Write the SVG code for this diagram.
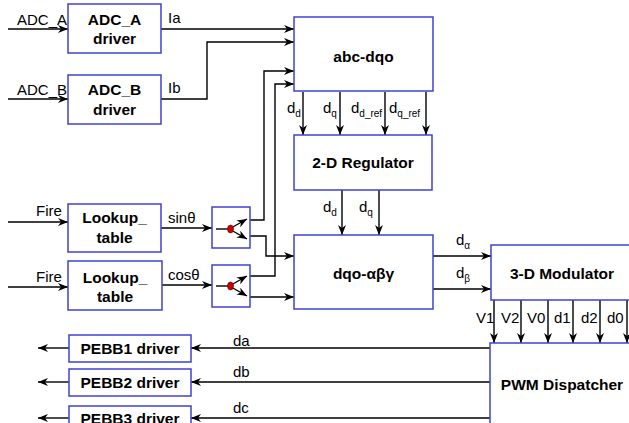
<svg xmlns="http://www.w3.org/2000/svg" width="629" height="423" viewBox="0 0 629 423">
<style>
.box{fill:#fff;stroke:#4040d2;stroke-width:1.5}
.bt{font-family:"Liberation Sans",Arial,sans-serif;font-weight:bold;font-size:15.5px;fill:#000;text-anchor:middle}
.lt{font-family:"Liberation Sans",Arial,sans-serif;font-size:15px;fill:#000}
.sub{font-size:10px}
.w{fill:none;stroke:#000;stroke-width:1.4}
.wa{fill:none;stroke:#000;stroke-width:1.4;marker-end:url(#ah)}
</style>
<defs>
<marker id="ah" markerWidth="11" markerHeight="8" refX="10" refY="4" orient="auto" markerUnits="userSpaceOnUse">
<path d="M0,0 L10,4 L0,8 L3,4 Z" fill="#000"/>
</marker>
</defs>
<rect x="0" y="0" width="629" height="423" fill="#fff"/>

<g id="connectors">
<path class="wa" d="M8,29 H68"/>
<path class="wa" d="M8,99 H68"/>
<path class="wa" d="M161,29 H294"/>
<path class="wa" d="M161,99 H207 V42 H294"/>
<path class="wa" d="M8,222 H68"/>
<path class="wa" d="M8,287 H68"/>
<path class="wa" d="M161,228 H212"/>
<path class="wa" d="M162,285 H212"/>
<path class="wa" d="M250,220 H264 V71 H294"/>
<path class="wa" d="M250,276 H275 V84 H294"/>
<path class="wa" d="M250,236 H266 V256 H294"/>
<path class="wa" d="M250,297 H294"/>
<path class="wa" d="M303,92 V135"/>
<path class="wa" d="M340,92 V135"/>
<path class="wa" d="M385,92 V135"/>
<path class="wa" d="M426,92 V135"/>
<path class="wa" d="M342,190 V235"/>
<path class="wa" d="M379,190 V235"/>
<path class="wa" d="M433,256 H491"/>
<path class="wa" d="M433,289 H491"/>
<path class="wa" d="M494,300 V343"/>
<path class="wa" d="M521,300 V343"/>
<path class="wa" d="M548,300 V343"/>
<path class="wa" d="M573,300 V343"/>
<path class="wa" d="M600,300 V343"/>
<path class="wa" d="M627,300 V343"/>
<path class="wa" d="M490,348 H191"/>
<path class="wa" d="M490,382 H191"/>
<path class="wa" d="M490,418 H191"/>
<path class="wa" d="M69,348 H38"/>
<path class="wa" d="M69,382 H38"/>
<path class="wa" d="M69,418 H38"/>
</g>

<g id="labels">
<text class="lt" x="42" y="25" text-anchor="middle">ADC_A</text>
<text class="lt" x="42" y="95" text-anchor="middle">ADC_B</text>
<text class="lt" x="168" y="23">Ia</text>
<text class="lt" x="168" y="93">Ib</text>
<text class="lt" x="49" y="216" text-anchor="middle">Fire</text>
<text class="lt" x="49" y="282" text-anchor="middle">Fire</text>
<text class="lt" x="168" y="223">sinθ</text>
<text class="lt" x="168" y="280">cosθ</text>
<text class="lt" x="287" y="113">d<tspan class="sub" dy="4">d</tspan></text>
<text class="lt" x="323" y="113">d<tspan class="sub" dy="4">q</tspan></text>
<text class="lt" x="351" y="113">d<tspan class="sub" dy="4">d_ref</tspan></text>
<text class="lt" x="389" y="113">d<tspan class="sub" dy="4">q_ref</tspan></text>
<text class="lt" x="323" y="212">d<tspan class="sub" dy="4">d</tspan></text>
<text class="lt" x="359" y="212">d<tspan class="sub" dy="4">q</tspan></text>
<text class="lt" x="456" y="245">d<tspan class="sub" dy="4">α</tspan></text>
<text class="lt" x="456" y="278">d<tspan class="sub" dy="4">β</tspan></text>
<text class="lt" x="476" y="323">V1</text>
<text class="lt" x="501" y="323">V2</text>
<text class="lt" x="527" y="323">V0</text>
<text class="lt" x="554" y="323">d1</text>
<text class="lt" x="581" y="323">d2</text>
<text class="lt" x="607" y="323">d0</text>
<text class="lt" x="233" y="346">da</text>
<text class="lt" x="233" y="377">db</text>
<text class="lt" x="233" y="413">dc</text>
</g>

<g id="adc_a">
<rect class="box" x="68" y="4" width="93" height="49"/>
<text class="bt" x="114.5" y="25">ADC_A</text>
<text class="bt" x="114.5" y="44">driver</text>
</g>
<g id="adc_b">
<rect class="box" x="68" y="75" width="93" height="49"/>
<text class="bt" x="114.5" y="95">ADC_B</text>
<text class="bt" x="114.5" y="115">driver</text>
</g>
<g id="lookup1">
<rect class="box" x="68" y="204" width="93" height="48"/>
<text class="bt" x="114.5" y="223">Lookup_</text>
<text class="bt" x="114.5" y="243">table</text>
</g>
<g id="lookup2">
<rect class="box" x="68" y="261" width="94" height="49"/>
<text class="bt" x="115" y="283">Lookup_</text>
<text class="bt" x="115" y="302">table</text>
</g>
<g id="switch1">
<rect class="box" x="212" y="207" width="38" height="41"/>
<path class="w" d="M216,229 H228"/>
<path class="wa" d="M231,228 L247,219"/>
<path class="wa" d="M231,230 L247,239"/>
<ellipse cx="230.5" cy="229" rx="3" ry="4" fill="#cc0000" stroke="#600" stroke-width="0.6"/>
</g>
<g id="switch2">
<rect class="box" x="212" y="265" width="38" height="42"/>
<path class="w" d="M216,286 H228"/>
<path class="wa" d="M231,285 L247,276"/>
<path class="wa" d="M231,287 L247,296"/>
<ellipse cx="230.5" cy="286" rx="3" ry="4" fill="#cc0000" stroke="#600" stroke-width="0.6"/>
</g>
<g id="abc_dqo">
<rect class="box" x="294" y="17" width="139" height="74"/>
<text class="bt" x="363.5" y="62">abc-dqo</text>
</g>
<g id="regulator">
<rect class="box" x="294" y="135" width="138" height="55"/>
<text class="bt" x="363" y="168">2-D Regulator</text>
</g>
<g id="dqo_abg">
<rect class="box" x="294" y="235" width="139" height="74"/>
<text class="bt" x="363.5" y="279">dqo-αβγ</text>
</g>
<g id="modulator">
<rect class="box" x="491" y="245" width="160" height="55"/>
<text class="bt" x="562" y="279">3-D Modulator</text>
</g>
<g id="pwm">
<rect class="box" x="490" y="343" width="160" height="100"/>
<text class="bt" x="562" y="390">PWM Dispatcher</text>
</g>
<g id="pebb1">
<rect class="box" x="69" y="335" width="122" height="27"/>
<text class="bt" x="130" y="354">PEBB1 driver</text>
</g>
<g id="pebb2">
<rect class="box" x="69" y="369" width="122" height="27"/>
<text class="bt" x="130" y="388">PEBB2 driver</text>
</g>
<g id="pebb3">
<rect class="box" x="69" y="406" width="122" height="30"/>
<text class="bt" x="130" y="424">PEBB3 driver</text>
</g>
</svg>
